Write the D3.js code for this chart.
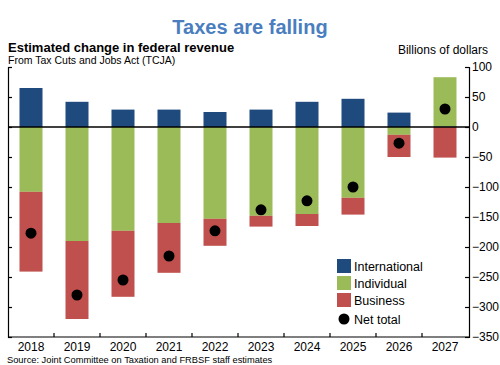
<!DOCTYPE html>
<html>
<head>
<meta charset="utf-8">
<script src="https://cdn.jsdelivr.net/npm/d3@7"></script>
<style>
  body { margin: 0; background: #fff; }
  svg { display: block; font-family: "Liberation Sans", Arial, sans-serif; }
</style>
</head>
<body>
<script>
const years = ["2018", "2019", "2020", "2021", "2022", "2023", "2024", "2025", "2026", "2027"];
const international = [65, 42, 29, 29, 25, 29, 42, 47, 24, 1];
const individual = [-108, -190, -173, -160, -153, -148, -145, -118, -13, 82];
const business = [-133, -130, -110, -83, -45, -18, -20, -28, -37, -51];
const netTotal = [-177, -280, -255, -215, -173, -138, -123, -100, -27, 30];
const yTicks = [100, 50, 0, -50, -100, -150, -200, -250, -300, -350];

const series = [
  { name: "International", values: international, color: "#1f4a7e" },
  { name: "Individual", values: individual, color: "#9bbb59" },
  { name: "Business", values: business, color: "#c0504d" }
];

const svg = d3.select("body").append("svg")
  .attr("width", 500)
  .attr("height", 365);

const x = d3.scaleBand()
  .domain(years)
  .range([8, 468])
  .paddingInner(0.5)
  .paddingOuter(0.25);

const y = d3.scaleLinear()
  .domain([-350, 100])
  .range([337, 67]);

// stack positives up from 0, negatives down from 0
let rects = [];
years.forEach((yr, i) => {
  let pos = 0, neg = 0;
  series.forEach(s => {
    let v = s.values[i];
    if (v >= 0) { rects.push({ yr, y0: pos, y1: pos + v, color: s.color }); pos += v; }
    else { rects.push({ yr, y0: neg, y1: neg + v, color: s.color }); neg += v; }
  });
});

svg.selectAll("rect.bar").data(rects)
  .enter().append("rect")
  .attr("class", "bar")
  .attr("x", d => x(d.yr))
  .attr("width", x.bandwidth())
  .attr("y", d => y(Math.max(d.y0, d.y1)))
  .attr("height", d => Math.abs(y(d.y0) - y(d.y1)))
  .attr("fill", d => d.color);

svg.selectAll("circle.net").data(netTotal)
  .enter().append("circle")
  .attr("class", "net")
  .attr("cx", (d, i) => x(years[i]) + x.bandwidth() / 2)
  .attr("cy", d => y(d))
  .attr("r", 5.5)
  .attr("fill", "#000");

// zero line
svg.append("line")
  .attr("x1", x.range()[0]).attr("x2", x.range()[1] + 1)
  .attr("y1", y(0)).attr("y2", y(0))
  .attr("stroke", "#000").attr("stroke-width", 1.5);

// left axis (no labels)
svg.append("g")
  .attr("transform", `translate(${x.range()[0]},0)`)
  .call(d3.axisLeft(y).tickValues(yTicks).tickSize(-4).tickSizeOuter(-4).tickFormat(""))
  .call(g => g.selectAll("path,line").attr("stroke", "#000").attr("stroke-width", 1.2));

// right axis
svg.append("g")
  .attr("transform", `translate(${x.range()[1] + 1},0)`)
  .call(d3.axisRight(y).tickValues(yTicks).tickSize(-4).tickSizeOuter(-4).tickPadding(3))
  .call(g => g.selectAll("path,line").attr("stroke", "#000").attr("stroke-width", 1.2))
  .call(g => g.selectAll("text").attr("font-size", 12).attr("fill", "#000").attr("font-family", "Liberation Sans, Arial, sans-serif"));

// bottom axis
const xAxis = svg.append("g");
xAxis.append("line")
  .attr("x1", x.range()[0]).attr("x2", x.range()[1] + 1)
  .attr("y1", y(-350)).attr("y2", y(-350))
  .attr("stroke", "#000").attr("stroke-width", 1.2);
xAxis.selectAll("line.tick").data(years.slice(1))
  .enter().append("line")
  .attr("x1", d => x(d) - x.step() * x.paddingInner() / 2)
  .attr("x2", d => x(d) - x.step() * x.paddingInner() / 2)
  .attr("y1", y(-350)).attr("y2", y(-350) - 4)
  .attr("stroke", "#000").attr("stroke-width", 1.2);
xAxis.selectAll("text").data(years)
  .enter().append("text")
  .attr("x", d => x(d) + x.bandwidth() / 2)
  .attr("y", y(-350) + 14)
  .attr("text-anchor", "middle")
  .attr("font-size", 12)
  .text(d => d);

// titles
svg.append("text")
  .attr("x", 250).attr("y", 34)
  .attr("text-anchor", "middle")
  .attr("font-size", 20).attr("font-weight", "bold")
  .attr("fill", "#4a7ebf")
  .text("Taxes are falling");

svg.append("text")
  .attr("x", 8).attr("y", 52)
  .attr("font-size", 13).attr("font-weight", "bold")
  .text("Estimated change in federal revenue");

svg.append("text")
  .attr("x", 8).attr("y", 64)
  .attr("font-size", 10.5)
  .text("From Tax Cuts and Jobs Act (TCJA)");

svg.append("text")
  .attr("x", 488).attr("y", 54)
  .attr("text-anchor", "end")
  .attr("font-size", 12)
  .text("Billions of dollars");

svg.append("text")
  .attr("x", 7).attr("y", 363)
  .attr("font-size", 9.3)
  .text("Source: Joint Committee on Taxation and FRBSF staff estimates");

// legend
const legend = svg.append("g").attr("transform", "translate(337,259)");
series.forEach((s, i) => {
  legend.append("rect")
    .attr("x", 0).attr("y", i * 17)
    .attr("width", 14).attr("height", 14)
    .attr("fill", s.color);
  legend.append("text")
    .attr("x", 17).attr("y", i * 17 + 12)
    .attr("font-size", 12.5)
    .text(s.name);
});
legend.append("circle")
  .attr("cx", 7).attr("cy", 3 * 17 + 9)
  .attr("r", 5.5).attr("fill", "#000");
legend.append("text")
  .attr("x", 17).attr("y", 3 * 17 + 14)
  .attr("font-size", 12.5)
  .text("Net total");
</script>
</body>
</html>
